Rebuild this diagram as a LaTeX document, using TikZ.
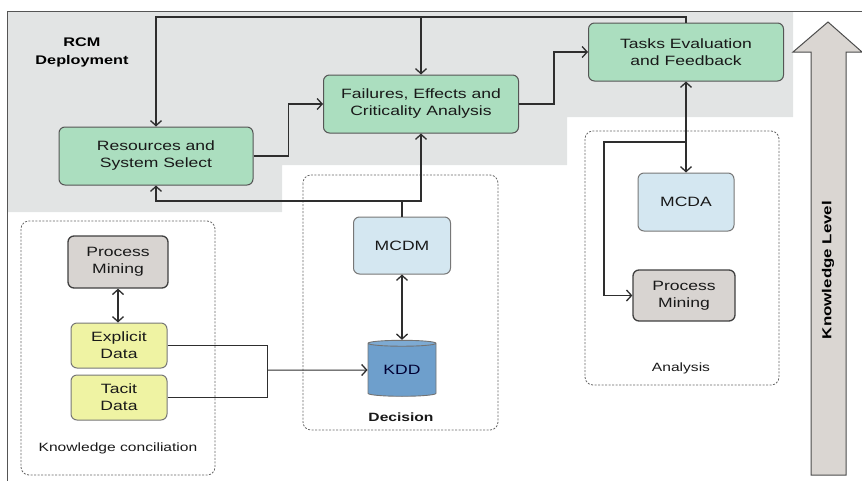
\documentclass[tikz,border=0pt]{standalone}
\usepackage{fontspec}
\setmainfont{Liberation Sans}[FakeStretch=1.3]
\usetikzlibrary{arrows.meta,shapes.geometric}
\definecolor{band}{HTML}{E2E4E4}
\definecolor{rcmgreen}{HTML}{ABDEBF}
\definecolor{mcblue}{HTML}{D4E7F1}
\definecolor{pmgray}{HTML}{D8D4D1}
\definecolor{datayellow}{HTML}{EFF3A3}
\definecolor{kddblue}{HTML}{6E9FCC}
\definecolor{kddtop}{HTML}{7DAAD3}
\definecolor{edge}{HTML}{555555}
\definecolor{wire}{HTML}{2E2E2E}
\definecolor{levelgray}{HTML}{DAD6D2}
\tikzset{
  boxtext/.style={font=\fontsize{13.5}{17}\selectfont, text=black!90, align=center},
  stage/.style={boxtext, draw=edge, line width=1pt, rounded corners=6pt, inner sep=0pt},
  rcmbox/.style={stage, fill=rcmgreen, minimum width=195pt, minimum height=58pt},
  methodbox/.style={stage, fill=mcblue, minimum width=97pt, minimum height=57pt, draw=edge!80},
  miningbox/.style={stage, fill=pmgray, draw=black!75, line width=1.3pt},
  databox/.style={stage, fill=datayellow, draw=edge!80, minimum width=96pt, minimum height=45pt},
  group/.style={draw=black!60, line width=0.8pt, dash pattern=on 2pt off 1.5pt, rounded corners=8pt},
  grouplabel/.style={font=\fontsize{12}{14}\selectfont, text=black!90},
  tip/.tip={Straight Barb[length=5pt,width=11pt,line width=1.3pt]},
  wire/.style={draw=wire, line width=1.8pt},
  thinwire/.style={draw=wire, line width=1pt},
}
\begin{document}
\begin{tikzpicture}[x=1pt,y=-1pt]
\useasboundingbox (0,0) rectangle (862,480);

% RCM deployment band
\fill[band] (7,11) -- (793,11) -- (793,117) -- (567,117) -- (567,165)
  -- (282,165) -- (282,212) -- (7,212) -- cycle;
% outer frame (top and left edges)
\draw[edge, line width=1pt] (7,482) -- (7,11) -- (864,11);

\node[font=\bfseries\fontsize{12.5}{18}\selectfont, align=center] (rcm) at (82,52) {RCM\\Deployment};

% dashed group frames
\draw[group] (21,221) rectangle (215,475);
\draw[group] (303,175) rectangle (498,430);
\draw[group] (585,131) rectangle (779,385);
\node[grouplabel] (kclabel) at (118,448) {Knowledge conciliation};
\node[grouplabel, font=\bfseries\fontsize{12}{14}\selectfont] (declabel) at (401,417) {Decision};
\node[grouplabel] (analabel) at (681,368) {Analysis};

% RCM stages
\node[rcmbox, minimum width=194pt] (res) at (156,156) {Resources and\\System Select};
\node[rcmbox] (feca) at (421,104) {Failures, Effects and\\Criticality Analysis};
\node[rcmbox] (tasks) at (686,52) {Tasks Evaluation\\and Feedback};

% decision group
\node[methodbox] (mcdm) at (402,245.5) {MCDM};
\node[cylinder, shape border rotate=90, aspect=0.16, draw=black!55, line width=0.9pt,
  minimum width=68pt, minimum height=56pt, inner sep=0pt,
  cylinder uses custom fill, cylinder body fill=kddblue, cylinder end fill=kddtop,
  boxtext, text={black!80!blue}] (kdd) at (402,370) {\raisebox{-6pt}{KDD}};

% knowledge conciliation group
\node[miningbox, minimum width=100pt, minimum height=52pt] (pm1) at (118,262) {Process\\Mining};
\node[databox] (expl) at (119,345.5) {Explicit\\Data};
\node[databox] (tacit) at (119,397.5) {Tacit\\Data};

% analysis group
\node[methodbox, minimum width=96pt, minimum height=58pt] (mcda) at (686,202) {MCDA};
\node[miningbox, minimum width=102pt, minimum height=51pt] (pm2) at (684,295.5) {Process\\Mining};

% knowledge level arrow
\draw[draw=black!70, fill=levelgray, line width=1pt]
  (811,475) -- (811,52) -- (793,52) -- (828,22) -- (862,52) -- (846,52) -- (846,475) -- cycle;
\node[rotate=90, font=\bfseries\fontsize{13}{15}\selectfont] (level) at (828,270) {Knowledge Level};

% feedback loop across the top
\coordinate (loopL) at (156,17);
\coordinate (loopM) at (421,17);
\draw[wire, -{tip}] (tasks.north) |- (loopL) -- (res.north);
\draw[wire, -{tip}] (loopM) -- (feca.north);

% forward flow between stages
\draw[wire, -{tip}] (res.east) -- ++(35,0) |- (feca.west);
\draw[wire, -{tip}] (feca.east) -- ++(35,0) |- (tasks.west);

% MCDM feeding back into the deployment stages
\coordinate (mj) at (402,201);
\draw[wire, {tip}-{tip}] (res.south) |- (feca.south |- mj) -- (feca.south);
\draw[wire] (mcdm.north) -- (mj);
\draw[wire, {tip}-{tip}] (mcdm.south) -- (kdd.north);

% data into KDD
\coordinate (jn) at (267,370);
\draw[thinwire] (expl.east) -| (jn);
\draw[thinwire] (tacit.east) -| (jn);
\draw[thinwire, -{tip}] (jn) -- (kdd.west);
\draw[wire, {tip}-{tip}] (pm1.south) -- (pm1.south |- expl.north);

% tasks evaluation and analysis
\coordinate (br) at (686,142);
\draw[wire, {tip}-{tip}] (tasks.south) -- (mcda.north);
\draw[wire, -{tip}] (br) -- (604,142) |- (pm2.west);
\end{tikzpicture}
\end{document}
